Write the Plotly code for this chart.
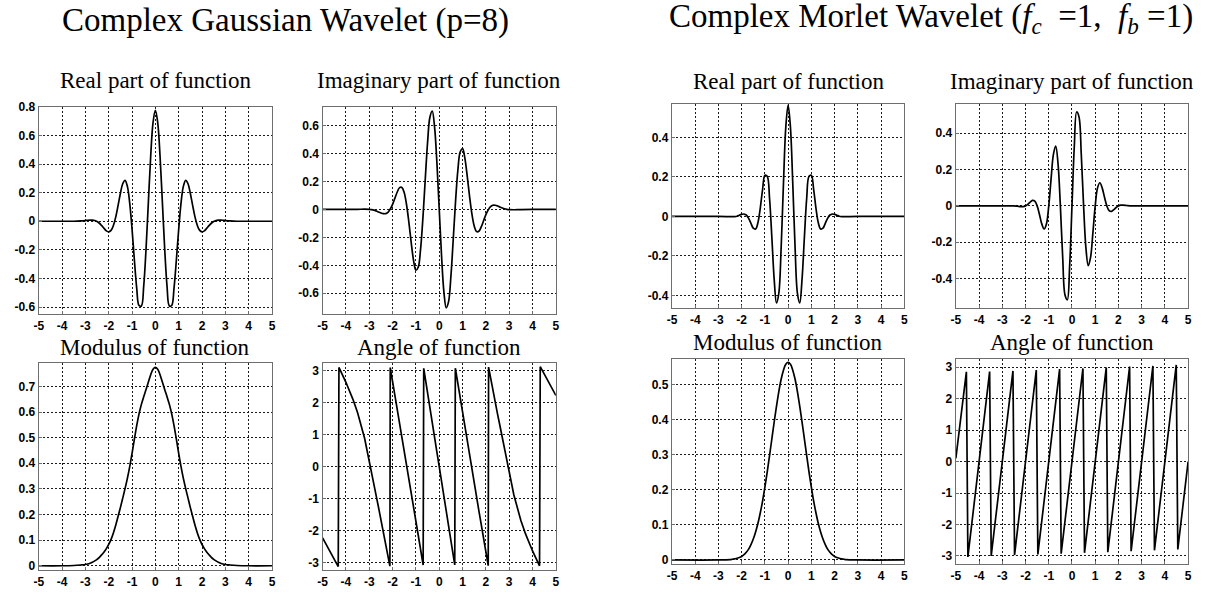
import plotly.graph_objects as go

W, H = 1207, 594

# ---------------- data ----------------
X_TICKS = [-5, -4, -3, -2, -1, 0, 1, 2, 3, 4, 5]
X_TICK_TEXT = ["-5", "-4", "-3", "-2", "-1", "0", "1", "2", "3", "4", "5"]

# Complex Gaussian wavelet (p=8)
GAU_X = [-5, -4, -3.5, -3.2, -3.0, -2.9, -2.8, -2.7, -2.6, -2.5, -2.4, -2.3, -2.2, -2.1, -2.0,
         -1.9, -1.8, -1.7, -1.6, -1.5, -1.4, -1.3, -1.2, -1.1, -1.0, -0.9, -0.8, -0.7, -0.6,
         -0.5, -0.4, -0.3, -0.2, -0.1, 0, 0.1, 0.2, 0.3, 0.4, 0.5, 0.6, 0.7, 0.8, 0.9, 1.0,
         1.1, 1.2, 1.3, 1.4, 1.5, 1.6, 1.7, 1.8, 1.9, 2.0, 2.1, 2.2, 2.3, 2.4, 2.5, 2.6, 2.7,
         2.8, 2.9, 3.0, 3.2, 3.5, 4, 5]
GAU_REAL = [0, 0, 0, 0.002, 0.005, 0.007, 0.008, 0.008, 0.005, -0.002, -0.014, -0.031, -0.050,
            -0.067, -0.074, -0.064, -0.030, 0.029, 0.109, 0.194, 0.262, 0.286, 0.244, 0.127,
            -0.056, -0.271, -0.467, -0.589, -0.592, -0.454, -0.194, 0.135, 0.456, 0.690,
            0.775,
            0.690, 0.456, 0.135, -0.194, -0.454, -0.592, -0.589, -0.467, -0.271, -0.056,
            0.127, 0.244, 0.286, 0.262, 0.194, 0.109, 0.029, -0.030, -0.064, -0.074, -0.067,
            -0.050, -0.031, -0.014, -0.002, 0.005, 0.008, 0.008, 0.007, 0.005, 0.002, 0, 0, 0]
GAU_IMAG = [0, 0, 0.001, 0.002, 0.001, -0.001, -0.005, -0.011, -0.018, -0.025, -0.030, -0.030,
            -0.020, 0.003, 0.037, 0.081, 0.125, 0.156, 0.158, 0.119, 0.032, -0.094, -0.239,
            -0.366, -0.435, -0.413, -0.284, -0.060, 0.215, 0.479, 0.660, 0.704, 0.590, 0.335,
            0,
            -0.335, -0.590, -0.704, -0.660, -0.479, -0.215, 0.060, 0.284, 0.413, 0.435, 0.366,
            0.239, 0.094, -0.032, -0.119, -0.158, -0.156, -0.125, -0.081, -0.037, -0.003,
            0.020, 0.030, 0.030, 0.025, 0.018, 0.011, 0.005, 0.001, -0.001, -0.002, -0.001, 0, 0]
GAU_MOD = [0, 0, 0.001, 0.003, 0.005, 0.007, 0.010, 0.014, 0.019, 0.025, 0.033, 0.043, 0.054,
           0.067, 0.083, 0.103, 0.128, 0.158, 0.192, 0.227, 0.264, 0.301, 0.341, 0.387, 0.439,
           0.494, 0.547, 0.593, 0.630, 0.660, 0.688, 0.717, 0.746, 0.767,
           0.775,
           0.767, 0.746, 0.717, 0.688, 0.660, 0.630, 0.593, 0.547, 0.494, 0.439, 0.387, 0.341,
           0.301, 0.264, 0.227, 0.192, 0.158, 0.128, 0.103, 0.083, 0.067, 0.054, 0.043, 0.033,
           0.025, 0.019, 0.014, 0.010, 0.007, 0.005, 0.003, 0.001, 0, 0]
GAU_ANG_X = [-5.0, -4.5, -4.33, -4.3, -4.0, -3.7, -3.5, -3.2, -3.0, -2.9, -2.8, -2.7, -2.6, -2.5,
             -2.4, -2.3, -2.2, -2.115, -2.1, -2.0, -1.9, -1.8, -1.7, -1.6, -1.5, -1.4, -1.3,
             -1.2, -1.1, -1.0, -0.9, -0.8, -0.7, -0.69, -0.665, -0.6, -0.5, -0.4, -0.3, -0.2,
             -0.1, 0, 0.1, 0.2, 0.3, 0.4, 0.5, 0.6, 0.665, 0.69, 0.7, 0.8, 0.9, 1.0, 1.1, 1.2,
             1.3, 1.4, 1.5, 1.6, 1.7, 1.8, 1.9, 2.0, 2.1, 2.115, 2.2, 2.3, 2.4, 2.5, 2.6, 2.7,
             2.8, 2.9, 3.0, 3.2, 3.5, 3.7, 4.0, 4.3, 4.33, 4.5, 5.0]
GAU_ANG = [-2.230, -2.892, -3.133, 3.107, 2.643, 2.109, 1.688, 0.888, 0.206, -0.167, -0.547,
           -0.922, -1.288, -1.648, -2.010, -2.382, -2.771, -3.119, 3.102, 2.675, 2.241, 1.809,
           1.385, 0.968, 0.549, 0.122, -0.319, -0.775, -1.238, -1.698, -2.150, -2.595, -3.040,
           -3.085, 3.080, 2.793, 2.330, 1.857, 1.382, 0.912, 0.453, 0, -0.453, -0.912, -1.382,
           -1.857, -2.330, -2.793, -3.080, 3.085, 3.040, 2.595, 2.150, 1.698, 1.238, 0.775,
           0.319, -0.122, -0.549, -0.968, -1.385, -1.809, -2.241, -2.675, -3.102, 3.119, 2.771,
           2.382, 2.010, 1.648, 1.288, 0.922, 0.547, 0.167, -0.206, -0.888, -1.688, -2.109,
           -2.643, -3.107, 3.133, 2.892, 2.230]

# Complex Morlet wavelet (fc=1, fb=1)
MOR_X = [-5, -3, -2.5, -2.4, -2.3, -2.2, -2.1, -2.0, -1.9, -1.8, -1.7, -1.6, -1.5, -1.4, -1.3,
         -1.2, -1.1, -1.0, -0.9, -0.8, -0.7, -0.6, -0.5, -0.4, -0.3, -0.2, -0.1, 0, 0.1, 0.2,
         0.3, 0.4, 0.5, 0.6, 0.7, 0.8, 0.9, 1.0, 1.1, 1.2, 1.3, 1.4, 1.5, 1.6, 1.7, 1.8, 1.9,
         2.0, 2.1, 2.2, 2.3, 2.4, 2.5, 3, 5]
MOR_REAL = [0, 0, -0.001, -0.001, -0.001, 0.001, 0.006, 0.010, 0.012, 0.007, -0.010, -0.035,
            -0.060, -0.064, -0.032, 0.041, 0.136, 0.208, 0.203, 0.092, -0.107, -0.318, -0.439,
            -0.389, -0.159, 0.168, 0.452,
            0.564,
            0.452, 0.168, -0.159, -0.389, -0.439, -0.318, -0.107, 0.092, 0.203, 0.208, 0.136,
            0.041, -0.032, -0.064, -0.060, -0.035, -0.010, 0.007, 0.012, 0.010, 0.006, 0.001,
            -0.001, -0.001, -0.001, 0, 0]
MOR_IMAG = [0, 0, 0, -0.001, -0.003, -0.004, -0.004, 0, 0.009, 0.021, 0.030, 0.026, 0, -0.047,
            -0.099, -0.127, -0.099, 0, 0.148, 0.283, 0.329, 0.231, 0, -0.283, -0.490, -0.516,
            -0.328,
            0,
            0.328, 0.516, 0.490, 0.283, 0, -0.231, -0.329, -0.283, -0.148, 0, 0.099, 0.127,
            0.099, 0.047, 0, -0.026, -0.030, -0.021, -0.009, 0, 0.004, 0.004, 0.003, 0.001, 0,
            0, 0]
MOR_MOD = [0, 0, 0.001, 0.002, 0.003, 0.005, 0.007, 0.010, 0.015, 0.022, 0.031, 0.044, 0.060,
           0.080, 0.104, 0.134, 0.168, 0.208, 0.251, 0.298, 0.346, 0.394, 0.439, 0.481, 0.516,
           0.542, 0.559,
           0.564,
           0.559, 0.542, 0.516, 0.481, 0.439, 0.394, 0.346, 0.298, 0.251, 0.208, 0.168, 0.134,
           0.104, 0.080, 0.060, 0.044, 0.031, 0.022, 0.015, 0.010, 0.007, 0.005, 0.003, 0.002,
           0.001, 0, 0]
MOR_ANG_X = [-5.0, -4.547, -4.482, -3.545, -3.478, -2.542, -2.473, -1.537, -1.470, -0.532,
             -0.466, 0.471, 0.539, 1.476, 1.542, 2.481, 2.546, 3.484, 3.551, 4.489, 4.556, 5.0]
MOR_ANG = [0.10, 2.85, -3.03, 2.86, -3.00, 2.88, -2.97, 2.91, -2.95, 2.94, -2.93, 2.96, -2.90,
           2.99, -2.88, 3.02, -2.85, 3.04, -2.82, 3.07, -2.79, 0.0]

# y ticks per panel
YT_GR = [-0.6, -0.4, -0.2, 0, 0.2, 0.4, 0.6, 0.8]
YT_GR_TXT = ["-0.6", "-0.4", "-0.2", "0", "0.2", "0.4", "0.6", "0.8"]
YT_GI = [-0.6, -0.4, -0.2, 0, 0.2, 0.4, 0.6]
YT_GI_TXT = ["-0.6", "-0.4", "-0.2", "0", "0.2", "0.4", "0.6"]
YT_GM = [0, 0.1, 0.2, 0.3, 0.4, 0.5, 0.6, 0.7]
YT_GM_TXT = ["0", "0.1", "0.2", "0.3", "0.4", "0.5", "0.6", "0.7"]
YT_ANG = [-3, -2, -1, 0, 1, 2, 3]
YT_ANG_TXT = ["-3", "-2", "-1", "0", "1", "2", "3"]
YT_MR = [-0.4, -0.2, 0, 0.2, 0.4]
YT_MR_TXT = ["-0.4", "-0.2", "0", "0.2", "0.4"]
YT_MM = [0, 0.1, 0.2, 0.3, 0.4, 0.5]
YT_MM_TXT = ["0", "0.1", "0.2", "0.3", "0.4", "0.5"]

TITLE_LEFT = "Complex Gaussian Wavelet (p=8)"
TITLE_RIGHT = ("Complex Morlet Wavelet (<i>f</i><sub><i>c</i></sub>\u00a0 =1,\u00a0 "
               "<i>f</i><sub><i>b</i></sub> =1)")

# ---------------- layout geometry (pixels) ----------------
# (left, right, top, bottom), title bottom y, yrange, yticks, yticktext, title, x, y, shape
panels = [
    ((34, 269, 101.5, 312.5), 90, [-0.65, 0.8], YT_GR, YT_GR_TXT, "Real part of function", GAU_X, GAU_REAL, "spline"),
    ((320, 555, 101.5, 312.5), 90, [-0.75, 0.735], YT_GI, YT_GI_TXT, "Imaginary part of function", GAU_X, GAU_IMAG, "spline"),
    ((34, 269, 362, 573), 361, [-0.018, 0.792], YT_GM, YT_GM_TXT, "Modulus of function", GAU_X, GAU_MOD, "spline"),
    ((320, 555, 362, 573), 361, [-3.25, 3.25], YT_ANG, YT_ANG_TXT, "Angle of function", GAU_ANG_X, GAU_ANG, "linear"),
    ((672, 906, 99, 306.5), 91, [-0.466, 0.568], YT_MR, YT_MR_TXT, "Real part of function", MOR_X, MOR_REAL, "spline"),
    ((958, 1192, 99, 306.5), 91, [-0.563, 0.558], YT_MR, YT_MR_TXT, "Imaginary part of function", MOR_X, MOR_IMAG, "spline"),
    ((672, 906, 358, 566.7), 356, [-0.012, 0.574], YT_MM, YT_MM_TXT, "Modulus of function", MOR_X, MOR_MOD, "spline"),
    ((958, 1192, 358, 566.7), 356, [-3.26, 3.26], YT_ANG, YT_ANG_TXT, "Angle of function", MOR_ANG_X, MOR_ANG, "linear"),
]

TICK_FONT = dict(family="Liberation Sans", size=12, color="black", weight="bold")
SERIF = "Liberation Serif, Times New Roman, serif"

fig = go.Figure()
layout = {}
annotations = []
for i, (box, ty, yr, yt, ytt, title, xs, ys, shape) in enumerate(panels, start=1):
    l, r, t, b = box
    xname = "xaxis" if i == 1 else f"xaxis{i}"
    yname = "yaxis" if i == 1 else f"yaxis{i}"
    xref = "x" if i == 1 else f"x{i}"
    yref = "y" if i == 1 else f"y{i}"
    common = dict(showgrid=True, gridcolor="#1a1a1a", gridwidth=1, griddash="2px,2px",
                  zeroline=False, showline=True, linecolor="#6e6e6e", linewidth=1.4,
                  mirror=True, ticks="inside", ticklen=3, tickcolor="#6e6e6e",
                  tickfont=TICK_FONT, tickmode="array", fixedrange=True)
    layout[xname] = dict(domain=[l / W, r / W], range=[-5, 5], anchor=yref,
                         tickvals=X_TICKS, ticktext=X_TICK_TEXT, **common)
    layout[yname] = dict(domain=[1 - b / H, 1 - t / H], range=yr, anchor=xref,
                         tickvals=yt, ticktext=ytt, **common)
    fig.add_trace(go.Scatter(x=xs, y=ys, xaxis=xref, yaxis=yref, mode="lines",
                             line=dict(color="black", width=1.7, shape=shape),
                             hoverinfo="skip", showlegend=False))
    annotations.append(dict(text=title, x=(l + r) / 2 / W, y=1 - ty / H,
                            xref="paper", yref="paper", xanchor="center", yanchor="bottom",
                            showarrow=False, font=dict(family=SERIF, size=23, color="black")))

annotations.append(dict(text=TITLE_LEFT, x=283 / W, y=1 - 35 / H, xref="paper", yref="paper",
                        xanchor="center", yanchor="bottom", showarrow=False,
                        font=dict(family=SERIF, size=33, color="black")))
annotations.append(dict(text=TITLE_RIGHT, x=933 / W, y=1 - 35 / H, xref="paper", yref="paper",
                        xanchor="center", yanchor="bottom", showarrow=False,
                        font=dict(family=SERIF, size=33, color="black")))

fig.update_layout(width=W, height=H, margin=dict(l=0, r=0, t=0, b=0, pad=0),
                  paper_bgcolor="white", plot_bgcolor="white", showlegend=False,
                  annotations=annotations, **layout)

fig.write_html("out.html", config={"displayModeBar": False},
               post_script="document.body.style.margin='0';document.body.style.padding='0';")
